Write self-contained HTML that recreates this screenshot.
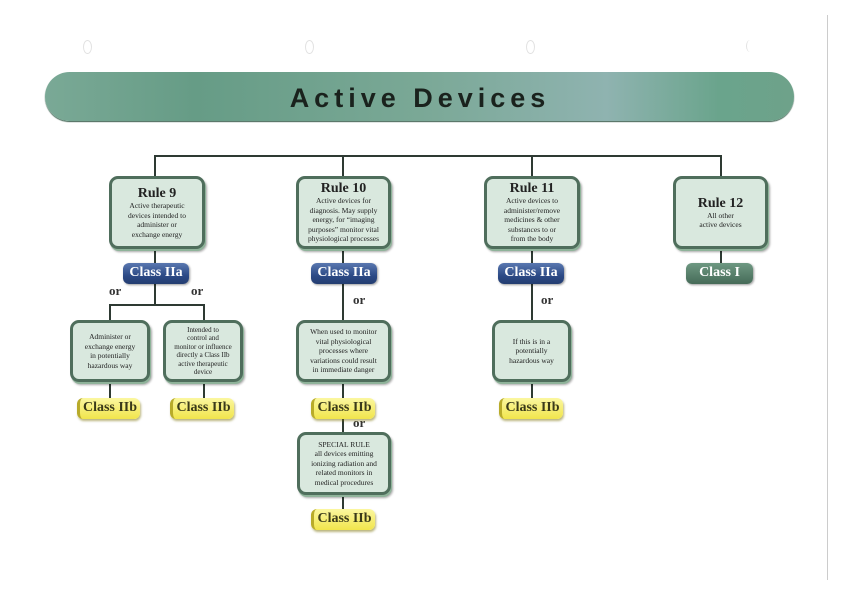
<!DOCTYPE html>
<html><head><meta charset="utf-8"><style>
body{margin:0;width:842px;height:595px;background:#fff;position:relative;overflow:hidden;font-family:"Liberation Serif",serif;}
.a{position:absolute;}
.ln{position:absolute;background:#2e3a33;}
.box{position:absolute;box-sizing:border-box;background:#d9e8de;border:3px solid #4f6e5c;border-radius:9px;box-shadow:1px 2px 0 #8fb39a,2px 3px 2px rgba(0,0,0,.35);display:flex;flex-direction:column;align-items:center;justify-content:center;text-align:center;color:#222;font-size:7.5px;line-height:9.5px;}
.box b{font-size:14px;line-height:15px;font-weight:bold;color:#222;}
.pill{position:absolute;box-sizing:border-box;border-radius:6px;color:#fff;font-size:14px;font-weight:bold;text-align:center;line-height:20px;height:21px;}
.blue{background:linear-gradient(#5a78b0,#2c4a86 60%,#243d70);box-shadow:1px 1px 2px rgba(0,0,0,.4);}
.green{background:linear-gradient(#6e9882,#466b58);box-shadow:1px 1px 2px rgba(0,0,0,.4);}
.yel{background:linear-gradient(#fbf7a0,#f1e54c);color:#3a3a1a;border-left:3px solid #b8ab2a;box-shadow:1px 2px 2px rgba(120,110,0,.5);font-weight:bold;}
.or{position:absolute;font-size:13px;font-weight:bold;color:#333;}
</style></head><body>
<div class="a" style="left:827px;top:15px;width:1px;height:565px;background:#ccc"></div>
<div class="a" style="left:83px;top:40px;width:7px;height:12px;border:1px solid #e2e2e2;border-radius:50%"></div>
<div class="a" style="left:305px;top:40px;width:7px;height:12px;border:1px solid #e2e2e2;border-radius:50%"></div>
<div class="a" style="left:526px;top:40px;width:7px;height:12px;border:1px solid #e2e2e2;border-radius:50%"></div>
<div class="a" style="left:746px;top:40px;width:7px;height:12px;border-left:1px solid #e2e2e2;border-radius:50%"></div>

<div class="a" style="left:45px;top:72px;width:749px;height:49px;border-radius:25px;background:linear-gradient(90deg,#7aa996,#669c86 20%,#7aa896 50%,#8fb3b0 75%,#6aa48c 90%,#6ea28a);box-shadow:0 1px 1px #3e6050;"></div>
<div class="a" style="left:220px;top:80px;width:400px;text-align:center;font-family:'Liberation Sans',sans-serif;font-weight:bold;font-size:27px;letter-spacing:5px;color:#1a221d;line-height:36px;">Active Devices</div>

<div class="ln" style="left:154px;top:155px;width:568px;height:2px"></div>
<div class="ln" style="left:154px;top:155px;width:2px;height:22px"></div>
<div class="ln" style="left:342px;top:155px;width:2px;height:22px"></div>
<div class="ln" style="left:531px;top:155px;width:2px;height:22px"></div>
<div class="ln" style="left:720px;top:155px;width:2px;height:22px"></div>

<div class="ln" style="left:154px;top:245px;width:2px;height:60px"></div>
<div class="ln" style="left:109px;top:304px;width:96px;height:2px"></div>
<div class="ln" style="left:109px;top:304px;width:2px;height:18px"></div>
<div class="ln" style="left:203px;top:304px;width:2px;height:18px"></div>
<div class="ln" style="left:109px;top:380px;width:2px;height:20px"></div>
<div class="ln" style="left:203px;top:380px;width:2px;height:20px"></div>
<div class="ln" style="left:342px;top:245px;width:2px;height:268px"></div>
<div class="ln" style="left:531px;top:245px;width:2px;height:155px"></div>
<div class="ln" style="left:720px;top:245px;width:2px;height:20px"></div>

<div class="box" style="left:109px;top:176px;width:96px;height:73px"><b>Rule 9</b>Active therapeutic<br>devices intended to<br>administer or<br>exchange energy</div>
<div class="box" style="left:296px;top:176px;width:95px;height:73px"><b>Rule 10</b>Active devices for<br>diagnosis. May supply<br>energy, for “imaging<br>purposes” monitor vital<br>physiological processes</div>
<div class="box" style="left:484px;top:176px;width:96px;height:73px"><b>Rule 11</b>Active devices to<br>administer/remove<br>medicines &amp; other<br>substances to or<br>from the body</div>
<div class="box" style="left:673px;top:176px;width:95px;height:73px"><b>Rule 12</b>All other<br>active devices</div>

<div class="pill blue" style="left:123px;top:263px;width:66px">Class IIa</div>
<div class="pill blue" style="left:311px;top:263px;width:66px">Class IIa</div>
<div class="pill blue" style="left:498px;top:263px;width:66px">Class IIa</div>
<div class="pill green" style="left:686px;top:263px;width:67px">Class I</div>

<div class="or" style="left:109px;top:283px">or</div>
<div class="or" style="left:191px;top:283px">or</div>
<div class="or" style="left:353px;top:292px">or</div>
<div class="or" style="left:541px;top:292px">or</div>
<div class="or" style="left:353px;top:415px">or</div>

<div class="box" style="left:70px;top:320px;width:80px;height:62px">Administer or<br>exchange energy<br>in potentially<br>hazardous way</div>
<div class="box" style="left:163px;top:320px;width:80px;height:62px;line-height:8.5px;font-size:7px">Intended to<br>control and<br>monitor or influence<br>directly a Class IIb<br>active therapeutic<br>device</div>
<div class="box" style="left:296px;top:320px;width:95px;height:62px">When used to monitor<br>vital physiological<br>processes where<br>variations could result<br>in immediate danger</div>
<div class="box" style="left:492px;top:320px;width:79px;height:62px">If this is in a<br>potentially<br>hazardous way</div>
<div class="box" style="left:297px;top:432px;width:94px;height:63px">SPECIAL RULE<br>all devices emitting<br>ionizing radiation and<br>related monitors in<br>medical procedures</div>

<div class="pill yel" style="left:77px;top:398px;width:63px">Class IIb</div>
<div class="pill yel" style="left:170px;top:398px;width:64px">Class IIb</div>
<div class="pill yel" style="left:311px;top:398px;width:64px">Class IIb</div>
<div class="pill yel" style="left:499px;top:398px;width:64px">Class IIb</div>
<div class="pill yel" style="left:311px;top:509px;width:64px">Class IIb</div>
</body></html>
